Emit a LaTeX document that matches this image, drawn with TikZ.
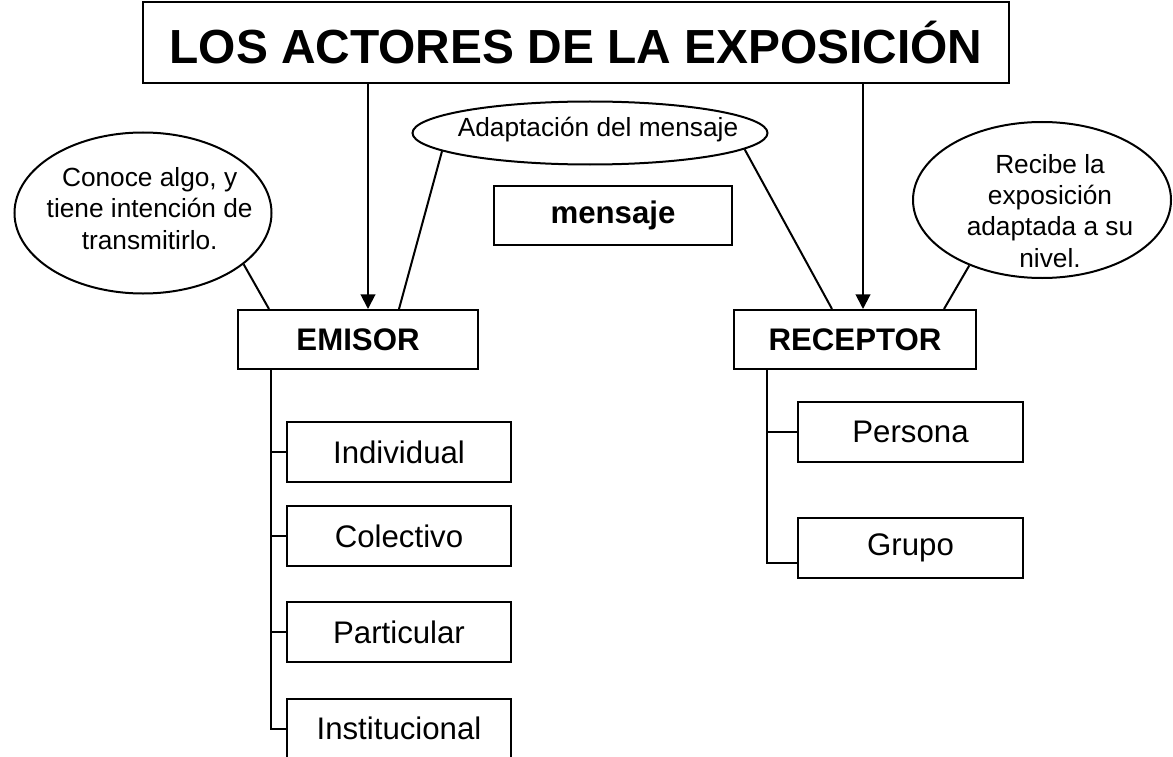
\documentclass[tikz,border=0pt]{standalone}
\usepackage{fontspec}
\setmainfont{Liberation Sans}
\usetikzlibrary{arrows.meta, shapes, positioning, calc}
\tikzset{
        block/.style={draw, line width=1.5pt, inner sep=0pt, minimum height=44.25pt, align=center, font=\fontsize{23.4}{23}\selectfont\bfseries},
        item/.style={block, minimum width=168pt, minimum height=45pt, font=\fontsize{23.4}{23}\selectfont},
        bubble/.style={draw, line width=1.5pt, ellipse, inner sep=0pt},
        bubbletext/.style={align=center, inner sep=0pt, font=\fontsize{19.7}{23.5}\selectfont},
        line/.style={line width=1.5pt},
        arrow/.style={line width=1.5pt, -{Triangle[width=11pt,length=11pt]}}
    }

\begin{document}
\begin{tikzpicture}[x=0.75pt, y=-0.75pt]
    \useasboundingbox (0,0) rectangle (1173,756);

    % title and the two actors
    \node[block, minimum width=649.5pt, minimum height=60.75pt, font=\fontsize{35.9}{40}\selectfont\bfseries] (title) at (576,42.5) {LOS ACTORES DE LA EXPOSICIÓN};
    \node[block, minimum width=180pt] (emisor) at (358,339.5) {EMISOR};
    \node[block, minimum width=181.5pt] (receptor) at (855,339.5) {RECEPTOR};
    \node[block, minimum width=178.5pt] (mensaje) at (613,215.5) {mensaje};

    % comment bubbles
    \node[bubble, minimum width=192.75pt, minimum height=120.75pt,
          label={[bubbletext, yshift=3.5pt, xshift=5pt]center:Conoce algo, y\\tiene intención de\\transmitirlo.}] (conoce) at (143,213) {};
    \node[bubble, minimum width=266.25pt, minimum height=47.25pt,
          label={[bubbletext, yshift=2.5pt, xshift=6pt]center:Adaptación del mensaje}] (adapt) at (590,133) {};
    \node[bubble, minimum width=193.5pt, minimum height=117pt,
          label={[bubbletext, yshift=-8pt, xshift=6pt]center:Recibe la\\exposición\\adaptada a su\\nivel.}] (recibe) at (1042,200) {};

    % kinds of emisor
    \node[item] (individual) at (399,452) {Individual};
    \node[item] (colectivo) at (399,536) {Colectivo};
    \node[item] (particular) at (399,632) {Particular};
    \node[item] (institucional) at (399,728.5) {Institucional};

    % kinds of receptor
    \node[item, minimum width=168.75pt] (persona) at (910.5,431.5) {Persona};
    \node[item, minimum width=168.75pt] (grupo) at (910.5,548) {Grupo};

    % title to actors
    \draw[arrow] ([xshift=7.5pt]emisor.north |- title.south) -- ([xshift=7.5pt]emisor.north);
    \draw[arrow] ([xshift=6pt]receptor.north |- title.south) -- ([xshift=6pt]receptor.north);

    % bubble connections
    \draw[line] (conoce.333) -- ([xshift=24pt]emisor.north west);
    \draw[line] (adapt.187) -- ([xshift=30.75pt]emisor.north);
    \draw[line] (adapt.354) -- ([xshift=-17.25pt]receptor.north);
    \draw[line] (recibe.222) -- ([xshift=66.75pt]receptor.north);

    % emisor tree
    \coordinate (etrunk) at (271,369);
    \draw[line] (etrunk) |- (institucional.west);
    \draw[line] (etrunk |- individual.west) -- (individual.west);
    \draw[line] (etrunk |- colectivo.west) -- (colectivo.west);
    \draw[line] (etrunk |- particular.west) -- (particular.west);

    % receptor tree
    \coordinate (rtrunk) at (767,369);
    \draw[line] (rtrunk) |- ([yshift=12pt]grupo.south west);
    \draw[line] (rtrunk |- persona.west) -- (persona.west);

\end{tikzpicture}
\end{document}
